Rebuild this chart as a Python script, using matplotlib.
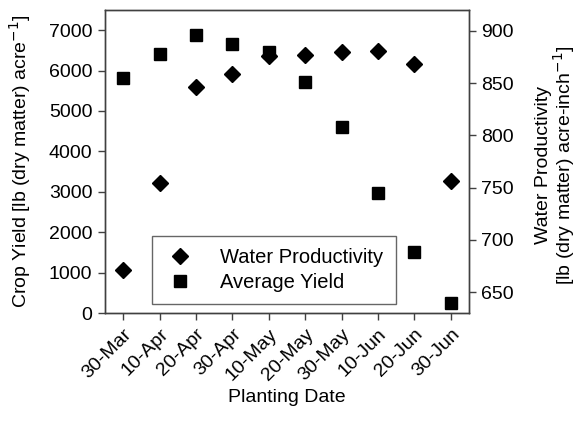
import matplotlib
matplotlib.use("Agg")
import matplotlib.pyplot as plt
from matplotlib.lines import Line2D

plt.rcParams['font.family'] = ['Liberation Sans', 'DejaVu Sans']

dates = ["30-Mar", "10-Apr", "20-Apr", "30-Apr", "10-May",
         "20-May", "30-May", "10-Jun", "20-Jun", "30-Jun"]
avg_yield = [5825, 6420, 6880, 6660, 6465, 5730, 4600, 2980, 1520, 240]
water_prod = [671, 754, 846, 859, 876, 877, 880, 881, 868, 756]

W, H = 579, 425
fig = plt.figure(figsize=(W / 100, H / 100), dpi=100)
ax = fig.add_axes([105 / W, 1 - 313 / H, 364 / W, 303 / H])
ax2 = ax.twinx()

x = list(range(len(dates)))
edge = '#404040'
fs = 14

ax.plot(x, avg_yield, linestyle='none', marker='s', ms=8, color='black', zorder=3)
ax2.plot(x, water_prod, linestyle='none', marker='D', ms=8, color='black', zorder=3)

ax.set_xlim(-0.5, len(dates) - 0.5)
ax.set_ylim(0, 7500)
ax.set_yticks(range(0, 7001, 1000))
ax2.set_ylim(630, 920)
ax2.set_yticks(range(650, 901, 50))

ax.set_xticks(x)
ax.set_xticklabels(dates, rotation=45, ha='right', rotation_mode='anchor')

for a in (ax, ax2):
    for s in a.spines.values():
        s.set_color(edge)
        s.set_linewidth(1)
    a.tick_params(direction='out', length=5, width=1, color=edge,
                  labelsize=fs, labelcolor='black', pad=4)

ax.set_ylabel("Crop Yield [lb (dry matter) acre$^{-1}$]", fontsize=fs)
ax.yaxis.set_label_coords((33 - 105) / 364, 0.5)
ax.set_xlabel("Planting Date", fontsize=fs)
ax.xaxis.set_label_coords(0.5, (313 - 389) / 303)

fig.text(556 / W, 1 - 165 / H,
         "Water Productivity\n[lb (dry matter) acre-inch$^{-1}$]",
         rotation=90, ha='center', va='center', multialignment='center',
         fontsize=fs, linespacing=1.0)

handles = [
    Line2D([], [], linestyle='none', marker='D', ms=8, color='black'),
    Line2D([], [], linestyle='none', marker='s', ms=8, color='black'),
]
leg = ax.legend(handles, ["Water Productivity", "Average Yield"],
                loc='upper left', bbox_to_anchor=(152 / W, 1 - 236 / H),
                bbox_transform=fig.transFigure, borderaxespad=0,
                fontsize=14.5, frameon=True, fancybox=False,
                handlelength=1.6, handletextpad=1.2, borderpad=0.6,
                labelspacing=0.3)
leg.get_frame().set_edgecolor(edge)
leg.get_frame().set_linewidth(1)

fig.savefig("out.png", dpi=100)
